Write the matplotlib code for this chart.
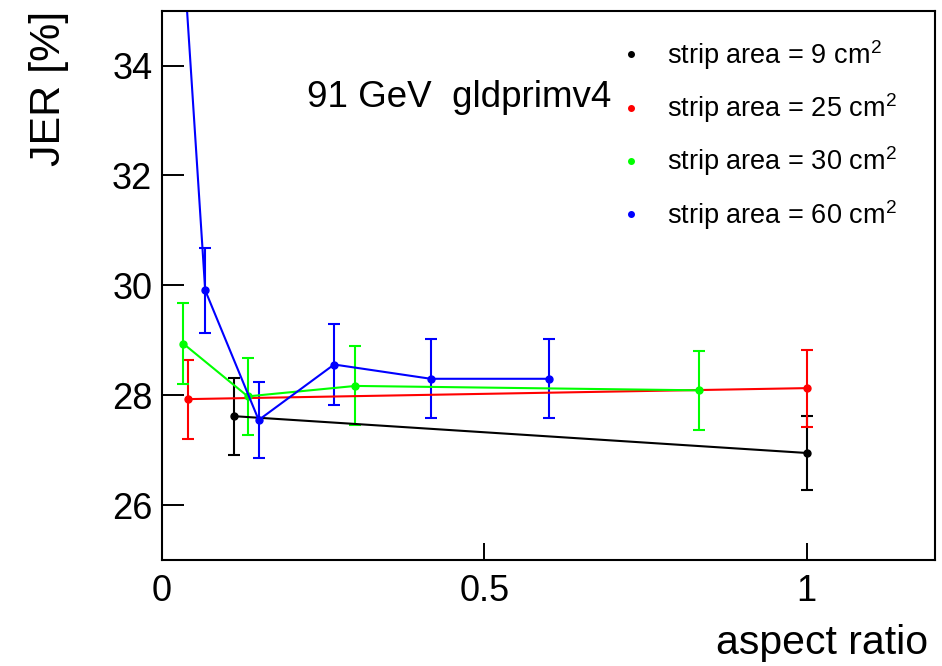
import matplotlib
matplotlib.use('Agg')
import matplotlib.pyplot as plt
from matplotlib.lines import Line2D

# JER vs strip aspect ratio, one series per strip area
labels = ['strip area = 9 cm$^{2}$', 'strip area = 25 cm$^{2}$',
          'strip area = 30 cm$^{2}$', 'strip area = 60 cm$^{2}$']
colors = ['#000000', '#ff0000', '#00ff00', '#0000ff']

ar_9 = [0.111, 1.0]
jer_9 = [27.62, 26.95]
err_9 = [0.70, 0.67]

ar_25 = [0.040, 1.0]
jer_25 = [27.93, 28.13]
err_25 = [0.72, 0.70]

ar_30 = [0.033, 0.133, 0.300, 0.833]
jer_30 = [28.94, 27.98, 28.17, 28.09]
err_30 = [0.74, 0.70, 0.72, 0.72]

ar_60 = [0.0167, 0.067, 0.150, 0.267, 0.417, 0.600]
jer_60 = [39.0, 29.91, 27.55, 28.56, 28.30, 28.30]
err_60 = [0.80, 0.77, 0.70, 0.74, 0.72, 0.72]

xticks = [0, 0.5, 1]
xticklabels = ['0', '0.5', '1']
yticks = [26, 28, 30, 32, 34]

plt.rcParams['font.family'] = ['Liberation Sans', 'DejaVu Sans']
plt.rcParams['mathtext.fontset'] = 'custom'
plt.rcParams['mathtext.rm'] = 'Liberation Sans'

fig = plt.figure(figsize=(9.42, 6.66), dpi=100)
ax = fig.add_axes([0.172, 0.159, 0.821, 0.825])

series = [(ar_9, jer_9, err_9), (ar_25, jer_25, err_25),
          (ar_30, jer_30, err_30), (ar_60, jer_60, err_60)]
for (x, y, e), c in zip(series, colors):
    ax.errorbar(x, y, yerr=e, color=c, ecolor=c, lw=1.5, elinewidth=1.5,
                marker='o', ms=5, capsize=4.6, capthick=1.5)

ax.set_xlim(0, 1.2)
ax.set_ylim(25, 35)
ax.set_xticks(xticks)
ax.set_xticklabels(xticklabels)
ax.set_yticks(yticks)
ax.tick_params(axis='both', direction='in', width=1.4, labelsize=26)
ax.tick_params(axis='x', length=12, pad=10)
ax.tick_params(axis='y', length=16, pad=7)
for s in ax.spines.values():
    s.set_linewidth(1.5)

ax.set_xlabel('aspect ratio', fontsize=29.5, loc='right', labelpad=11)
ax.xaxis.label.set_x(1 - 7 / 773)
ax.set_ylabel('JER [%]', fontsize=31, loc='top', labelpad=31)

ax.text(0.1876, 0.825, '91 GeV  gldprimv4', fontsize=26.5,
        transform=ax.transAxes, va='baseline')

handles = [Line2D([], [], ls='none', marker='o', ms=4, color=c) for c in colors]
ax.legend(handles, labels, loc='upper left', frameon=False, fontsize=19.5,
          bbox_to_anchor=(624 / 942, 1 - 38 / 666), bbox_transform=fig.transFigure,
          borderpad=0, borderaxespad=0, handlelength=0.5, handletextpad=1.1,
          labelspacing=0.72)

fig.savefig('out.png', dpi=100)
